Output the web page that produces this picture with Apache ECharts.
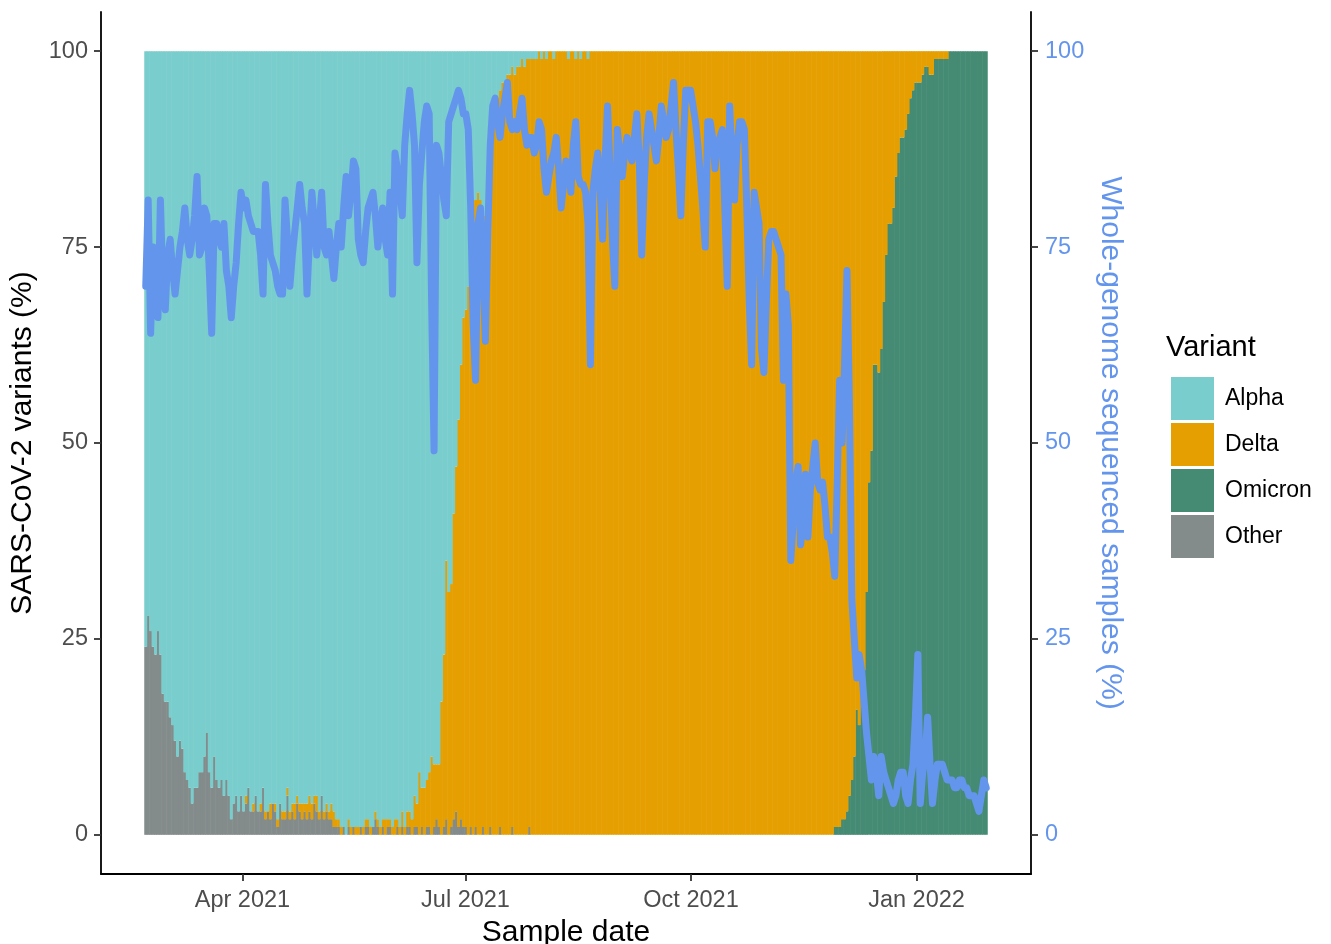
<!DOCTYPE html>
<html><head><meta charset="utf-8">
<script src="https://cdn.jsdelivr.net/npm/echarts@6/dist/echarts.min.js"></script>
<style>html,body{margin:0;padding:0;background:#fff}#chart{width:1331px;height:944px}</style>
</head><body><div id="chart"></div>
<script>
// ---- data ----
const startDate = '2021-02-20';           // first sample day (index 0)
const tickDates = ['2021-04-01', '2021-07-01', '2021-10-01', '2022-01-01'];
const tickLabels = ['Apr 2021', 'Jul 2021', 'Oct 2021', 'Jan 2022'];
const yTicks = [0, 25, 50, 75, 100];
const variants = ['Alpha', 'Delta', 'Omicron', 'Other'];

// daily share of each variant (%), one value per day from startDate
const other = [
24,28,26,24,23,26,23,18,17,17,
15,14,12,10,12,11,8,7,6,4,
6,6,8,8,10,13,8,6,10,7,
6,7,5,7,5,2,4,5,3,5,
3,4,6,3,3,5,3,3,6,2,
3,2,4,3,1,4,2,2,5,2,
3,2,4,3,2,3,2,3,2,4,
3,2,5,2,3,2,2,1,1,1,
0,1,0,1,0,1,0,0,1,0,
1,1,0,1,2,1,0,1,0,1,
1,0,0,1,0,1,0,1,1,0,
1,1,0,1,0,1,1,0,1,2,
1,0,1,2,0,1,2,3,1,2,
1,1,0,1,0,1,0,0,1,0,
0,1,0,0,0,1,0,0,0,0,
1,0,0,0,0,0,0,1,0,0,
0,0,0,0,0,0,0,0,0,0,
0,0,0,0,0,0,0,0,0,0,
0,0,0,0,0,0,0,0,0,0,
0,0,0,0,0,0,0,0,0,0,
0,0,0,0,0,0,0,0,0,0,
0,0,0,0,0,0,0,0,0,0,
0,0,0,0,0,0,0,0,0,0,
0,0,0,0,0,0,0,0,0,0,
0,0,0,0,0,0,0,0,0,0,
0,0,0,0,0,0,0,0,0,0,
0,0,0,0,0,0,0,0,0,0,
0,0,0,0,0,0,0,0,0,0,
0,0,0,0,0,0,0,0,0,0,
0,0,0,0,0,0,0,0,0,0,
0,0,0,0,0,0,0,0,0,0,
0,0,0,0,0,0,0,0,0,0,
0,0,0,0,0,0,0,0,0,0,
0,0,0,0,0,0,0,0,0,0,
0,0,0,0,0
];
const omicron = [
0,0,0,0,0,0,0,0,0,0,
0,0,0,0,0,0,0,0,0,0,
0,0,0,0,0,0,0,0,0,0,
0,0,0,0,0,0,0,0,0,0,
0,0,0,0,0,0,0,0,0,0,
0,0,0,0,0,0,0,0,0,0,
0,0,0,0,0,0,0,0,0,0,
0,0,0,0,0,0,0,0,0,0,
0,0,0,0,0,0,0,0,0,0,
0,0,0,0,0,0,0,0,0,0,
0,0,0,0,0,0,0,0,0,0,
0,0,0,0,0,0,0,0,0,0,
0,0,0,0,0,0,0,0,0,0,
0,0,0,0,0,0,0,0,0,0,
0,0,0,0,0,0,0,0,0,0,
0,0,0,0,0,0,0,0,0,0,
0,0,0,0,0,0,0,0,0,0,
0,0,0,0,0,0,0,0,0,0,
0,0,0,0,0,0,0,0,0,0,
0,0,0,0,0,0,0,0,0,0,
0,0,0,0,0,0,0,0,0,0,
0,0,0,0,0,0,0,0,0,0,
0,0,0,0,0,0,0,0,0,0,
0,0,0,0,0,0,0,0,0,0,
0,0,0,0,0,0,0,0,0,0,
0,0,0,0,0,0,0,0,0,0,
0,0,0,0,0,0,0,0,0,0,
0,0,0,0,0,0,0,0,0,0,
0,0,1,1,1,2,2,3,5,7,
10,16,14,19,21,31,45,49,60,60,
59,62,68,74,78,78,80,84,87,89,
89,90,92,94,95,96,96,96,97,98,
98,97,97,99,99,99,99,99,99,100,
100,100,100,100,100,100,100,100,100,100,
100,100,100,100,100
];
const delta = [
0,0,0,0,0,0,0,0,0,0,
0,0,0,0,0,0,0,0,0,0,
0,0,0,0,0,0,0,0,0,0,
0,0,0,0,0,0,0,0,0,0,
0,1,0,0,1,0,0,1,0,1,
0,2,0,1,1,0,1,1,1,1,
1,2,1,1,2,1,2,2,2,1,
2,1,0,1,1,1,2,2,1,1,
1,0,0,1,1,0,1,1,0,1,
1,1,1,0,1,1,1,1,2,1,
1,1,2,1,1,2,1,2,2,2,
4,3,8,5,6,6,7,10,8,7,
8,17,22,33,31,31,39,44,52,58,
65,66,70,76,81,80,82,81,79,79,
86,88,93,94,94,94,96,96,97,97,
97,97,98,98,99,98,99,98,99,99,
99,100,99,100,99,100,100,99,100,100,
100,100,100,99,100,100,99,100,99,100,
100,99,100,100,100,100,100,100,100,100,
100,100,100,100,100,100,100,100,100,100,
100,100,100,100,100,100,100,100,100,100,
100,100,100,100,100,100,100,100,100,100,
100,100,100,100,100,100,100,100,100,100,
100,100,100,100,100,100,100,100,100,100,
100,100,100,100,100,100,100,100,100,100,
100,100,100,100,100,100,100,100,100,100,
100,100,100,100,100,100,100,100,100,100,
100,100,100,100,100,100,100,100,100,100,
100,100,99,99,99,98,98,97,95,93,
90,84,86,81,79,69,55,51,40,40,
41,38,32,26,22,22,20,16,13,11,
11,10,8,6,5,4,4,4,3,2,
2,3,3,1,1,1,1,1,1,0,
0,0,0,0,0,0,0,0,0,0,
0,0,0,0,0
];
const alpha = [
76,72,74,76,77,74,77,82,83,83,
85,86,88,90,88,89,92,93,94,96,
94,94,92,92,90,87,92,94,90,93,
94,93,95,93,95,98,96,95,97,95,
97,95,94,97,96,95,97,96,94,97,
97,96,96,96,98,96,97,97,94,97,
96,96,95,96,96,96,96,95,96,95,
95,97,95,97,96,97,96,97,98,98,
99,99,100,98,99,99,99,99,99,99,
98,98,99,99,97,98,99,98,98,98,
98,99,98,98,99,97,99,97,97,98,
95,96,92,94,94,93,92,90,91,91,
91,83,77,65,69,68,59,53,47,40,
34,33,30,23,19,19,18,19,20,21,
14,11,7,6,6,5,4,4,3,3,
2,3,2,2,1,2,1,1,1,1,
1,0,1,0,1,0,0,1,0,0,
0,0,0,1,0,0,1,0,1,0,
0,1,0,0,0,0,0,0,0,0,
0,0,0,0,0,0,0,0,0,0,
0,0,0,0,0,0,0,0,0,0,
0,0,0,0,0,0,0,0,0,0,
0,0,0,0,0,0,0,0,0,0,
0,0,0,0,0,0,0,0,0,0,
0,0,0,0,0,0,0,0,0,0,
0,0,0,0,0,0,0,0,0,0,
0,0,0,0,0,0,0,0,0,0,
0,0,0,0,0,0,0,0,0,0,
0,0,0,0,0,0,0,0,0,0,
0,0,0,0,0,0,0,0,0,0,
0,0,0,0,0,0,0,0,0,0,
0,0,0,0,0,0,0,0,0,0,
0,0,0,0,0,0,0,0,0,0,
0,0,0,0,0,0,0,0,0,0,
0,0,0,0,0
];
// whole-genome sequenced samples (%)
const wgs = [
70,81,64,75,72,66,81,70,67,74,
76,72,69,72,75,77,80,76,74,76,
79,84,74,75,80,79,72,64,78,78,
76,75,78,72,70,66,70,73,78,82,
80,81,79,78,77,77,77,74,69,83,
78,74,73,72,70,69,69,81,76,70,
74,77,80,83,80,78,69,76,82,78,
74,78,82,75,74,77,74,71,75,78,
75,80,84,79,82,86,85,76,74,73,
77,80,81,82,79,75,78,80,76,74,
82,69,87,85,82,79,88,92,95,92,
88,73,83,87,91,93,92,68,49,88,
87,84,81,79,91,92,93,94,95,94,
92,92,90,80,65,58,78,80,72,63,
77,88,93,94,91,89,92,94,96,91,
90,91,90,92,94,90,88,89,89,87,
88,91,90,85,82,84,86,87,89,85,
80,83,86,85,82,88,91,84,83,83,
82,78,60,82,85,87,82,76,86,93,
85,76,70,90,87,84,87,89,87,86,
89,92,86,74,83,89,92,90,88,86,
89,93,91,89,90,93,96,90,85,79,
88,95,95,95,93,91,88,84,80,75,
91,91,89,85,88,89,90,80,70,93,
85,81,88,91,91,90,80,68,60,82,
80,78,62,59,68,76,77,77,76,75,
74,58,69,65,35,40,45,47,37,40,
46,38,44,47,50,45,44,45,42,38,
38,36,33,45,58,50,60,72,55,30,
25,20,23,21,17,13,10,7,10,8,
5,10,8,7,6,5,4,5,7,8,
8,5,4,7,9,15,23,4,8,10,
15,9,4,7,9,9,9,8,7,7,
7,6,6,7,7,6,6,5,5,5,
4,3,5,7,6
];

// ---- chart ----
const DAY = 86400000;
const t0 = Date.parse(startDate + 'T00:00:00Z');
const dayOf = s => Math.round((Date.parse(s + 'T00:00:00Z') - t0) / DAY);
const tickDays = tickDates.map(dayOf);
const pairs = arr => arr.map((v, i) => [t0 + i * DAY, v]);
const FONT = '"Liberation Sans", Arial, Helvetica, sans-serif';
const colors = { Alpha: '#79CDCD', Delta: '#E69F00', Omicron: '#458B74', Other: '#838B8B' };
const blue = '#6495ED';
const X_MIN = -17.7, X_MAX = 361.7;   // axis range in days (5% padding)

const barSeries = (name, arr) => ({
  name, type: 'bar', stack: 'variants', data: pairs(arr), barWidth: 3, xAxisIndex: 0,
  itemStyle: { color: colors[name] }, emphasis: { disabled: true }
});

const chart = echarts.init(document.getElementById('chart'), null, { renderer: 'canvas' });
chart.setOption({
  animation: false,
  useUTC: true,
  backgroundColor: '#ffffff',
  textStyle: { fontFamily: FONT },
  grid: { left: 101, right: 300, top: 12, bottom: 70, containLabel: false, outerBoundsMode: 'none' },
  title: {
    text: 'Variant', left: 1161, top: 328,
    textStyle: { fontSize: 29, fontWeight: 'normal', color: '#000', fontFamily: FONT }
  },
  legend: {
    data: variants, orient: 'vertical', left: 1166, top: 372,
    itemWidth: 43, itemHeight: 43, itemGap: 3, icon: 'rect', selectedMode: false,
    textStyle: { fontSize: 23, color: '#000', fontFamily: FONT, padding: [0, 0, 0, 6] }
  },
  xAxis: [
    {
      // data axis (dates) – carries the marks
      type: 'time', position: 'bottom', min: t0 + X_MIN * DAY, max: t0 + X_MAX * DAY,
      axisLine: { show: true, onZero: false, lineStyle: { color: '#000', width: 1.8 } },
      axisTick: { show: false }, axisLabel: { show: false }, splitLine: { show: false }
    },
    {
      // label axis: same range counted in days from startDate
      type: 'value', position: 'bottom', min: X_MIN, max: X_MAX,
      name: 'Sample date', nameLocation: 'middle', nameGap: 43,
      nameTextStyle: { fontSize: 30, color: '#000', fontFamily: FONT },
      axisLine: { show: false, onZero: false },
      axisTick: { show: true, customValues: tickDays, length: 7, lineStyle: { color: '#333', width: 1.8 } },
      axisLabel: {
        customValues: tickDays, fontSize: 23.5, color: '#4D4D4D', margin: 15, fontFamily: FONT,
        formatter: v => { const k = tickDays.indexOf(Math.round(v)); return k >= 0 ? tickLabels[k] : ''; }
      },
      splitLine: { show: false }
    }
  ],
  yAxis: [
    {
      type: 'value', position: 'left', min: -5, max: 105,
      name: 'SARS-CoV-2 variants (%)', nameLocation: 'middle', nameGap: 45, nameRotate: 90,
      nameTextStyle: { fontSize: 30, color: '#000', fontFamily: FONT },
      axisLine: { show: true, onZero: false, lineStyle: { color: '#000', width: 1.8 } },
      axisTick: { show: true, customValues: yTicks, length: 7, lineStyle: { color: '#333', width: 1.8 } },
      axisLabel: { customValues: yTicks, fontSize: 23.5, color: '#4D4D4D', margin: 13, fontFamily: FONT },
      splitLine: { show: false }
    },
    {
      type: 'value', position: 'right', min: -5, max: 105,
      name: 'Whole-genome sequenced samples (%)', nameLocation: 'middle', nameGap: 30, nameRotate: -90,
      nameTextStyle: { fontSize: 30, color: blue, fontFamily: FONT },
      axisLine: { show: true, onZero: false, lineStyle: { color: '#000', width: 1.8 } },
      axisTick: { show: true, customValues: yTicks, length: 7, lineStyle: { color: '#333', width: 1.8 } },
      axisLabel: { customValues: yTicks, fontSize: 23.5, color: blue, margin: 14, fontFamily: FONT },
      splitLine: { show: false }
    }
  ],
  series: [
    barSeries('Other', other),
    barSeries('Omicron', omicron),
    barSeries('Delta', delta),
    barSeries('Alpha', alpha),
    {
      name: 'Whole-genome sequenced', type: 'line', xAxisIndex: 0, yAxisIndex: 1, data: pairs(wgs),
      symbol: 'none', showSymbol: false, z: 5,
      lineStyle: { color: blue, width: 7, cap: 'round', join: 'round' },
      emphasis: { disabled: true }
    }
  ]
});
</script>
</body></html>
